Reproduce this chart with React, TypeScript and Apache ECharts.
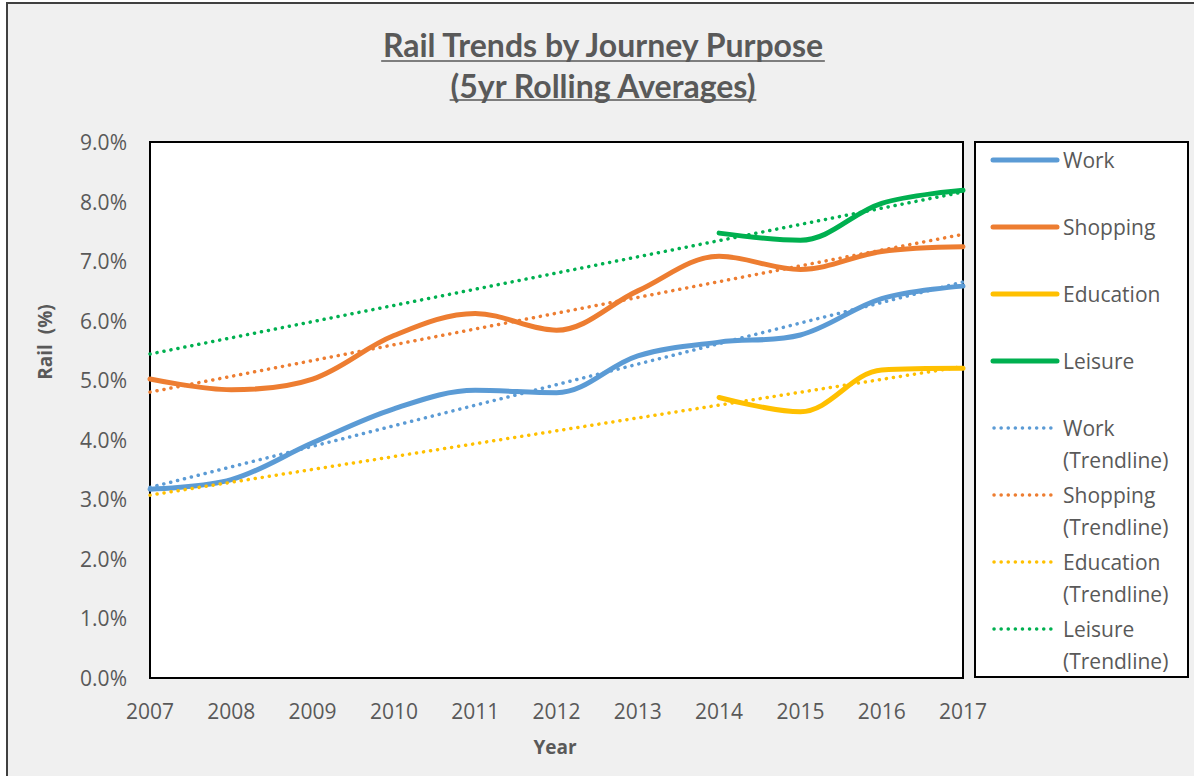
import React, { useEffect, useRef } from "react";
import * as echarts from "echarts";

const years = [2007, 2008, 2009, 2010, 2011, 2012, 2013, 2014, 2015, 2016, 2017];
const work = [3.17, 3.33, 3.95, 4.52, 4.83, 4.79, 5.41, 5.64, 5.76, 6.37, 6.58];
const shopping = [5.02, 4.84, 5.02, 5.75, 6.12, 5.84, 6.5, 7.08, 6.86, 7.16, 7.24];
const education = [null, null, null, null, null, null, null, 4.71, 4.47, 5.17, 5.2];
const leisure = [null, null, null, null, null, null, null, 7.47, 7.35, 7.97, 8.19];

const trendYears = [2007, 2017];
const workTrend = [3.2, 6.65];
const shoppingTrend = [4.8, 7.45];
const educationTrend = [3.07, 5.23];
const leisureTrend = [5.44, 8.16];

const seriesNames = ["Work", "Shopping", "Education", "Leisure"];
const trendSuffix = "(Trendline)";
const colors = ["#5B9BD5", "#ED7D31", "#FFC000", "#00B050"];
const titleLines = ["Rail Trends by Journey Purpose", "(5yr Rolling Averages)"];
const xAxisName = "Year";
const yAxisName = "Rail  (%)";
const yTicks = [0, 1, 2, 3, 4, 5, 6, 7, 8, 9];

const TEXT = "#595959";
const FONT = '"Open Sans", sans-serif';

function measure(text: string, font: string): number {
  const ctx = document.createElement("canvas").getContext("2d");
  if (!ctx) return text.length * 14;
  ctx.font = font;
  return ctx.measureText(text).width;
}

export default function App() {
  const ref = useRef<HTMLDivElement>(null);

  useEffect(() => {
    if (!ref.current) return;
    const chart = echarts.init(ref.current, null, { renderer: "svg" });

    const mains = [work, shopping, education, leisure];
    const trends = [workTrend, shoppingTrend, educationTrend, leisureTrend];

    const series: any[] = [];
    mains.forEach((vals, i) => {
      series.push({
        type: "line",
        name: seriesNames[i],
        data: years
          .map((y, k) => [y, vals[k]])
          .filter((p) => p[1] !== null && p[1] !== undefined),
        smooth: 0.35,
        symbol: "none",
        showSymbol: false,
        lineStyle: { color: colors[i], width: 5, cap: "round" },
        itemStyle: { color: colors[i] },
        z: 3,
      });
    });
    trends.forEach((vals, i) => {
      series.push({
        type: "line",
        name: seriesNames[i] + " " + trendSuffix,
        data: trendYears.map((y, k) => [y, vals[k]]),
        symbol: "none",
        showSymbol: false,
        lineStyle: { color: colors[i], width: 3.5, type: [0.1, 7], cap: "round" },
        itemStyle: { color: colors[i] },
        z: 4,
      });
    });

    const titleFont = "bold 32px Lato, sans-serif";
    const titleX = 603;
    const titleY = [44, 85];
    const underlineY = [61, 100];
    const graphic: any[] = [
      {
        type: "rect",
        z: -100,
        shape: { x: 7, y: 3, width: 1220, height: 820 },
        style: { fill: "#F0F0F0", stroke: "#404040", lineWidth: 2 },
      },
    ];
    titleLines.forEach((t, i) => {
      const w = measure(t, titleFont);
      graphic.push({
        type: "text",
        x: titleX,
        y: titleY[i],
        style: {
          text: t,
          font: titleFont,
          fill: TEXT,
          align: "center",
          verticalAlign: "middle",
        },
      });
      graphic.push({
        type: "line",
        shape: { x1: titleX - w / 2, y1: underlineY[i], x2: titleX + w / 2, y2: underlineY[i] },
        style: { stroke: TEXT, lineWidth: 1.5 },
      });
    });

    graphic.push({
      type: "text",
      x: 555,
      y: 747,
      style: {
        text: xAxisName,
        font: 'bold 19px "Open Sans", sans-serif',
        fill: TEXT,
        align: "center",
        verticalAlign: "middle",
      },
    });
    graphic.push({
      type: "text",
      x: 45,
      y: 342,
      rotation: Math.PI / 2,
      style: {
        text: yAxisName,
        font: 'bold 19px "Open Sans", sans-serif',
        fill: TEXT,
        align: "center",
        verticalAlign: "middle",
      },
    });

    graphic.push({
      type: "rect",
      shape: { x: 975, y: 142, width: 213, height: 535 },
      style: { fill: "#FFFFFF", stroke: "#000000", lineWidth: 2 },
    });
    const legendItems: { name: string; color: string; dotted: boolean }[] = [];
    seriesNames.forEach((n, i) => legendItems.push({ name: n, color: colors[i], dotted: false }));
    seriesNames.forEach((n, i) =>
      legendItems.push({ name: n + "\n" + trendSuffix, color: colors[i], dotted: true })
    );
    const lineH = 32;
    legendItems.forEach((it, i) => {
      const cy = 160 + 67 * i;
      graphic.push({
        type: "line",
        shape: { x1: it.dotted ? 994 : 993, y1: cy, x2: it.dotted ? 1056 : 1057, y2: cy },
        style: it.dotted
          ? { stroke: it.color, lineWidth: 3.5, lineDash: [0.1, 7], lineCap: "round" }
          : { stroke: it.color, lineWidth: 5, lineCap: "round" },
      });
      graphic.push({
        type: "text",
        x: 1063,
        y: cy - lineH / 2,
        style: {
          text: it.name,
          font: '21px "Open Sans", sans-serif',
          lineHeight: lineH,
          fill: TEXT,
          align: "left",
          verticalAlign: "top",
        },
      });
    });

    chart.setOption({
      animation: false,
      backgroundColor: "#FFFFFF",
      grid: {
        left: 150,
        top: 142,
        width: 813,
        height: 536,
        show: true,
        backgroundColor: "#FFFFFF",
        borderColor: "#000000",
        borderWidth: 2,
        z: 1,
      },
      xAxis: {
        type: "value",
        min: years[0],
        max: years[years.length - 1],
        interval: 1,
        axisLine: { show: false },
        axisTick: { show: false },
        axisLabel: {
          color: TEXT,
          fontSize: 21,
          fontFamily: FONT,
          margin: 22,
          formatter: (v: number) => String(v),
        },
        splitLine: {
          show: true,
          lineStyle: { color: "#D9D9D9", width: 2, type: [8, 6] },
        },
      },
      yAxis: {
        type: "value",
        min: yTicks[0],
        max: yTicks[yTicks.length - 1],
        interval: 1,
        axisLine: { show: false },
        axisTick: { show: false },
        axisLabel: {
          color: TEXT,
          fontSize: 21,
          fontFamily: FONT,
          margin: 23,
          formatter: (v: number) => v.toFixed(1) + "%",
        },
        splitLine: { show: true, lineStyle: { color: "#D9D9D9", width: 2 } },
      },
      graphic,
      series,
    });

    return () => chart.dispose();
  }, []);

  return (
    <div
      ref={ref}
      style={{ position: "absolute", left: 0, top: 0, width: 1194, height: 776 }}
    />
  );
}
